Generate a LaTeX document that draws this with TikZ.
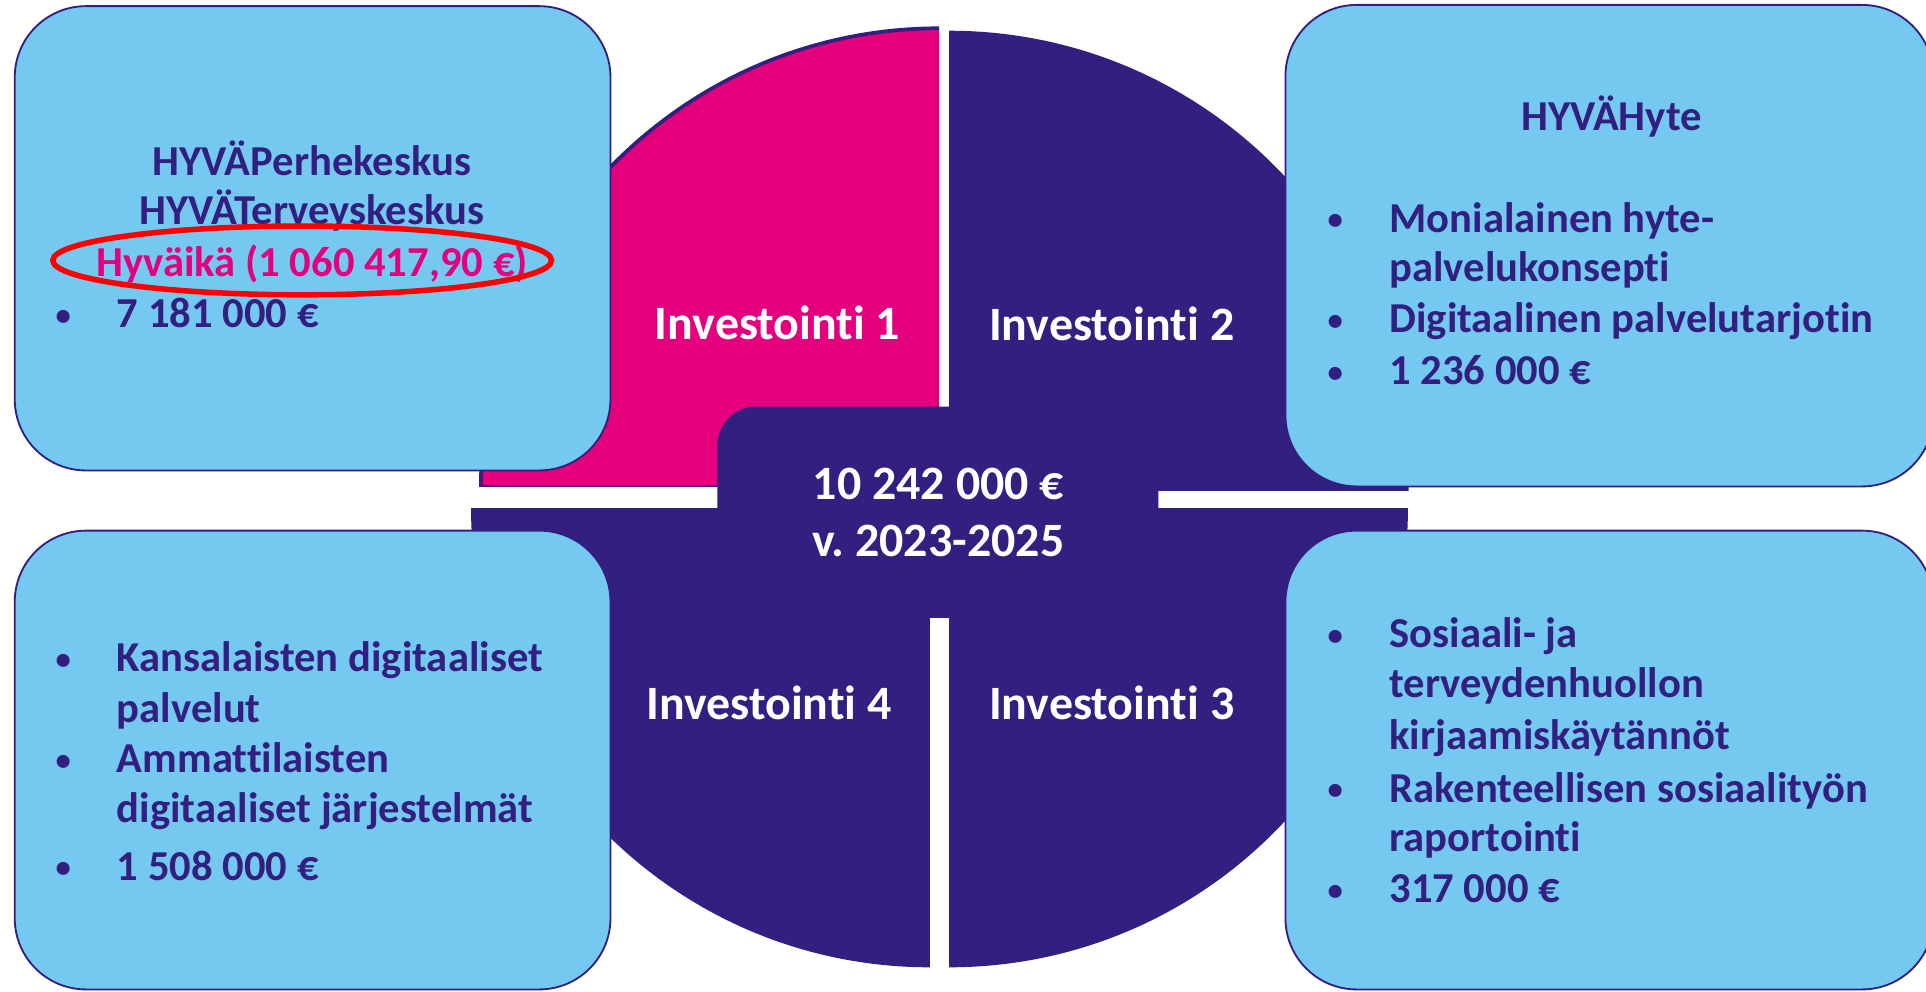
\documentclass[tikz,border=0pt]{standalone}
\usepackage{fontspec}
\setmainfont{Carlito}[Ligatures={NoCommon,NoRare}]
\frenchspacing
\definecolor{darkp}{RGB}{50,31,128}
\definecolor{pinkc}{RGB}{228,0,124}
\definecolor{lightb}{RGB}{117,201,240}
\definecolor{redc}{RGB}{255,0,0}
\tikzset{
  boxshape/.style={fill=lightb, draw=darkp, line width=1.5pt, rounded corners=58pt},
  btxt/.style={font=\fontsize{34.7}{40}\selectfont\bfseries, text=darkp, inner sep=0pt, anchor=base west},
  bdot/.style={font=\fontsize{25}{30}\selectfont\bfseries, text=darkp, inner sep=0pt, anchor=base},
  btitle/.style={font=\fontsize{34.7}{40}\selectfont\bfseries, text=darkp, inner sep=0pt, anchor=base},
  wlabel/.style={font=\fontsize{39}{44}\selectfont\bfseries, text=white, inner sep=0pt, anchor=base},
}
\begin{document}
\begin{tikzpicture}[x=1pt,y=-1pt]
\useasboundingbox (0,0) rectangle (1568,807);
\fill[white] (0,0) rectangle (1568,807);
% quadrants
\begin{scope}
  \clip (0,0) rectangle (764.5,396);
  \fill[pinkc] (764.5,396) circle[radius=373];
  \draw[darkp, line width=3pt] (764.5,396) circle[radius=373];
  \draw[darkp, line width=3pt] (392,396) -- (764.5,396);
\end{scope}
\begin{scope}
  \clip (772.7,0) rectangle (1600,399);
  \fill[darkp] (772.7,399) circle[radius=374];
\end{scope}
\begin{scope}
  \clip (0,414) rectangle (757,807);
  \fill[darkp] (757,414) circle[radius=373.5];
\end{scope}
\begin{scope}
  \clip (772.7,414) rectangle (1600,807);
  \fill[darkp] (772.7,414) circle[radius=373.5];
\end{scope}
% centre
\fill[darkp, rounded corners=32pt] (584,331) rectangle (943,503);
\node[wlabel] (total) at (764,407) {10 242 000 €};
\node[wlabel] (years) at (764,453) {v. 2023-2025};
\node[wlabel] (inv1) at (633,276) {Investointi 1};
\node[wlabel] (inv2) at (905,277) {Investointi 2};
\node[wlabel] (inv4) at (626,586) {Investointi 4};
\node[wlabel] (inv3) at (905,586) {Investointi 3};
% boxes
\draw[boxshape] (12,5) rectangle (497,383);
\draw[boxshape] (1046.5,4) rectangle (1574,396);
\draw[boxshape] (12,432) rectangle (497,805.5);
\draw[boxshape] (1046.5,432) rectangle (1574,805.5);
% top-left box
\node[btitle] (tl1) at (254,142.5) {HYVÄPerhekeskus};
\node[btitle] (tl2) at (254,183) {HYVÄTerveyskeskus};
\node[btitle, text=pinkc] (tl3) at (254,225) {Hyväikä (1 060 417,90 €)};
\node[bdot] (tlb1) at (51.5,265) {•};
\node[btxt] (tl4) at (95,267) {7 181 000 €};
\draw[redc, line width=4.5pt] (246,212) ellipse[x radius=203, y radius=28];
% top-right box
\node[btitle] (tr0) at (1312,106) {HYVÄHyte};
\node[bdot] (trb1) at (1087,187) {•};
\node[btxt] (tr1) at (1131,189) {Monialainen hyte-};
\node[btxt] (tr2) at (1131,229.5) {palvelukonsepti};
\node[bdot] (trb2) at (1087,269) {•};
\node[btxt] (tr3) at (1131,271) {Digitaalinen palvelutarjotin};
\node[bdot] (trb3) at (1087,311) {•};
\node[btxt] (tr4) at (1131,313) {1 236 000 €};
% bottom-left box
\node[bdot] (blb1) at (51.5,545) {•};
\node[btxt] (bl1) at (95,547) {Kansalaisten digitaaliset};
\node[btxt] (bl2) at (95,588) {palvelut};
\node[bdot] (blb2) at (51.5,627) {•};
\node[btxt] (bl3) at (95,629) {Ammattilaisten};
\node[btxt] (bl4) at (95,670) {digitaaliset järjestelmät};
\node[bdot] (blb3) at (51.5,714.5) {•};
\node[btxt] (bl5) at (95,716.5) {1 508 000 €};
% bottom-right box
\node[bdot] (brb1) at (1087,525.5) {•};
\node[btxt] (br1) at (1131,527.5) {Sosiaali- ja};
\node[btxt] (br2) at (1131,568) {terveydenhuollon};
\node[btxt] (br3) at (1131,610.5) {kirjaamiskäytännöt};
\node[bdot] (brb2) at (1087,651) {•};
\node[btxt] (br4) at (1131,653) {Rakenteellisen sosiaalityön};
\node[btxt] (br5) at (1131,693.5) {raportointi};
\node[bdot] (brb3) at (1087,733) {•};
\node[btxt] (br6) at (1131,735) {317 000 €};
\end{tikzpicture}
\end{document}
